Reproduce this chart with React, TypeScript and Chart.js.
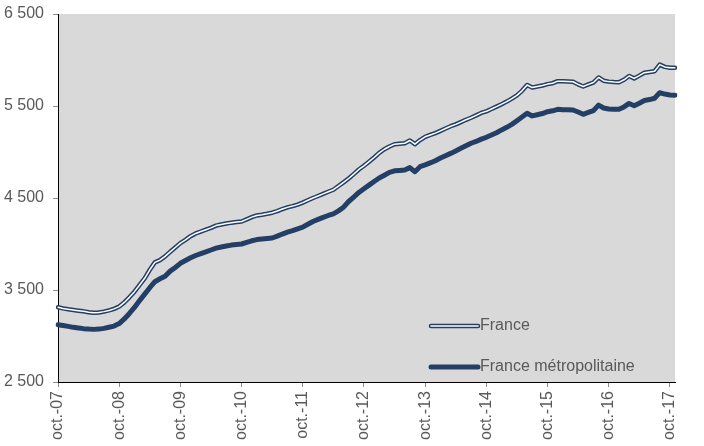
import React, { useEffect, useRef } from "react";
import { Chart, registerables } from "chart.js";

Chart.register(...registerables);

// ---- Data ----
const monthNames = ["janv.", "févr.", "mars", "avr.", "mai", "juin", "juil.", "août", "sept.", "oct.", "nov.", "déc."];
const startYear = 2007;
const startMonthIndex = 9; // octobre
const monthCount = 122; // oct.-07 .. nov.-17
const categories: string[] = Array.from({ length: monthCount }, (_, i) => {
  const m = (startMonthIndex + i) % 12;
  const y = startYear + Math.floor((startMonthIndex + i) / 12);
  return `${monthNames[m]}-${String(y % 100).padStart(2, "0")}`;
});

const yTicks = [2500, 3500, 4500, 5500, 6500];

const seriesNames = ["France", "France métropolitaine"];

const franceValues = [
  3312, 3300, 3290, 3283, 3275, 3268, 3258, 3253, 3255, 3265, 3278, 3295,
  3320, 3365, 3420, 3482, 3555, 3627, 3720, 3800, 3825, 3865, 3915, 3962,
  4010, 4045, 4085, 4115, 4135, 4155, 4175, 4200, 4212, 4222, 4232, 4240,
  4245, 4268, 4292, 4310, 4318, 4328, 4340, 4358, 4380, 4398, 4412, 4428,
  4450, 4475, 4500, 4522, 4545, 4568, 4590, 4630, 4670, 4712, 4760, 4810,
  4850, 4895, 4940, 4990, 5030, 5060, 5085, 5090, 5095, 5125, 5085, 5130,
  5165, 5185, 5205, 5230, 5255, 5280, 5300, 5325, 5350, 5372, 5398, 5425,
  5442, 5467, 5493, 5520, 5548, 5580, 5615, 5665, 5728, 5700, 5712, 5722,
  5738, 5748, 5770, 5768, 5767, 5764, 5735, 5712, 5735, 5755, 5810, 5775,
  5765, 5760, 5757, 5785, 5826, 5800, 5830, 5862, 5870, 5878, 5950, 5925,
  5916, 5915,
];

const metroValues = [
  3123, 3115, 3105, 3094, 3088, 3080, 3075, 3072, 3075, 3083, 3095, 3108,
  3135, 3185, 3245, 3310, 3385, 3455, 3525, 3590, 3622, 3650, 3705, 3745,
  3790, 3820, 3850, 3875, 3895, 3915, 3935, 3955, 3968, 3978, 3988, 3995,
  4000, 4018, 4035, 4048, 4055, 4060, 4065, 4085, 4108, 4128, 4145, 4165,
  4183, 4215, 4245, 4268, 4290, 4310, 4328, 4360, 4400, 4462, 4510, 4560,
  4600, 4640, 4680, 4718, 4748, 4778, 4795, 4800, 4805, 4830, 4786, 4840,
  4860, 4882, 4905, 4935, 4960, 4985, 5012, 5040, 5068, 5095, 5115, 5140,
  5160, 5185, 5210, 5240, 5268, 5300, 5340, 5380, 5421, 5392, 5405, 5418,
  5438, 5448, 5464, 5460, 5460, 5457, 5435, 5410, 5430, 5450, 5510, 5478,
  5468, 5465, 5464, 5490, 5528, 5503, 5530, 5560, 5570, 5584, 5645, 5630,
  5620, 5618,
];

// ---- Styles ----
const NAVY = "#243f66";
const TEXT = "#595959";
const PLOT_BG = "#d9d9d9";
const FONT = "'Liberation Sans', Arial, Helvetica, sans-serif";

const formatThousands = (v: number) => {
  const th = Math.floor(v / 1000);
  const rest = String(Math.round(v % 1000)).padStart(3, "0");
  return th > 0 ? `${th} ${rest}` : String(v);
};

const plotBgPlugin = {
  id: "plotBg",
  beforeDraw(chart: any) {
    const { ctx, chartArea: a } = chart;
    ctx.save();
    ctx.fillStyle = PLOT_BG;
    ctx.fillRect(a.left, a.top, a.right - a.left, a.bottom - a.top);
    ctx.restore();
  },
};

const legendPlugin = {
  id: "insideLegend",
  afterDraw(chart: any) {
    const { ctx, chartArea: a } = chart;
    const x0 = a.left + 373;
    const x1 = a.left + 420;
    const rows = [
      { y: a.top + 312, label: seriesNames[0], double: true },
      { y: a.top + 353, label: seriesNames[1], double: false },
    ];
    ctx.save();
    ctx.lineCap = "round";
    for (const r of rows) {
      ctx.beginPath();
      ctx.moveTo(x0, r.y);
      ctx.lineTo(x1, r.y);
      ctx.strokeStyle = NAVY;
      ctx.lineWidth = r.double ? 4.5 : 5;
      ctx.stroke();
      if (r.double) {
        ctx.beginPath();
        ctx.moveTo(x0, r.y);
        ctx.lineTo(x1, r.y);
        ctx.strokeStyle = "#ffffff";
        ctx.lineWidth = 1.6;
        ctx.stroke();
      }
      ctx.fillStyle = TEXT;
      ctx.font = `16px ${FONT}`;
      ctx.textBaseline = "middle";
      ctx.textAlign = "left";
      ctx.fillText(r.label, x1 + 2, r.y);
    }
    ctx.restore();
  },
};

export default function App() {
  const canvasRef = useRef<HTMLCanvasElement | null>(null);

  useEffect(() => {
    if (!canvasRef.current) return;
    const chart = new Chart(canvasRef.current, {
      type: "line",
      data: {
        labels: categories,
        datasets: [
          {
            label: seriesNames[0],
            data: franceValues,
            borderColor: NAVY,
            borderWidth: 4.5,
            pointRadius: 0,
            tension: 0,
            order: 1,
            borderJoinStyle: "round",
            borderCapStyle: "round",
          },
          {
            label: seriesNames[0] + " (inner)",
            data: franceValues,
            borderColor: "#ffffff",
            borderWidth: 1.5,
            pointRadius: 0,
            tension: 0,
            order: 0,
            borderJoinStyle: "round",
            borderCapStyle: "round",
          },
          {
            label: seriesNames[1],
            data: metroValues,
            borderColor: NAVY,
            borderWidth: 5,
            pointRadius: 0,
            tension: 0,
            order: 2,
            borderJoinStyle: "round",
            borderCapStyle: "round",
          },
        ],
      },
      options: {
        animation: false,
        responsive: false,
        maintainAspectRatio: false,
        layout: { padding: { left: 0, right: 29, top: 14, bottom: 0 } },
        plugins: {
          legend: { display: false },
          tooltip: { enabled: false },
        },
        font: { family: FONT, size: 16 },
        scales: {
          x: {
            type: "category",
            offset: false,
            border: { display: true, color: "#000000", width: 1 },
            grid: {
              display: true,
              drawOnChartArea: false,
              drawTicks: true,
              tickLength: 5,
              tickColor: (c: any) => (c.index % 12 === 0 ? "#8c8c8c" : "rgba(0,0,0,0)"),
            },
            ticks: {
              autoSkip: false,
              maxRotation: 90,
              minRotation: 90,
              padding: 4,
              color: TEXT,
              font: { family: FONT, size: 16 },
              callback: function (this: any, v: any, i: number) {
                return i % 12 === 0 ? categories[i] : "";
              },
            },
            afterFit: (s: any) => {
              s.height = 64;
              s.paddingLeft = 0;
              s.paddingRight = 0;
            },
          },
          y: {
            type: "linear",
            min: yTicks[0],
            max: yTicks[yTicks.length - 1],
            border: { display: true, color: "#000000", width: 1 },
            grid: {
              display: true,
              drawOnChartArea: false,
              drawTicks: true,
              tickLength: 5,
              tickColor: "#8c8c8c",
            },
            afterBuildTicks: (s: any) => {
              s.ticks = yTicks.map((v) => ({ value: v }));
            },
            ticks: {
              padding: 9,
              color: TEXT,
              font: { family: FONT, size: 16 },
              callback: (v: any) => formatThousands(Number(v)),
            },
            afterFit: (s: any) => {
              s.width = 58;
              s.paddingTop = 0;
              s.paddingBottom = 0;
            },
          },
        },
      },
      plugins: [plotBgPlugin, legendPlugin],
    } as any);
    return () => chart.destroy();
  }, []);

  return (
    <div style={{ position: "absolute", left: 0, top: 0, width: 704, height: 446, background: "#ffffff" }}>
      <canvas ref={canvasRef} width={704} height={446} style={{ display: "block" }} />
    </div>
  );
}
